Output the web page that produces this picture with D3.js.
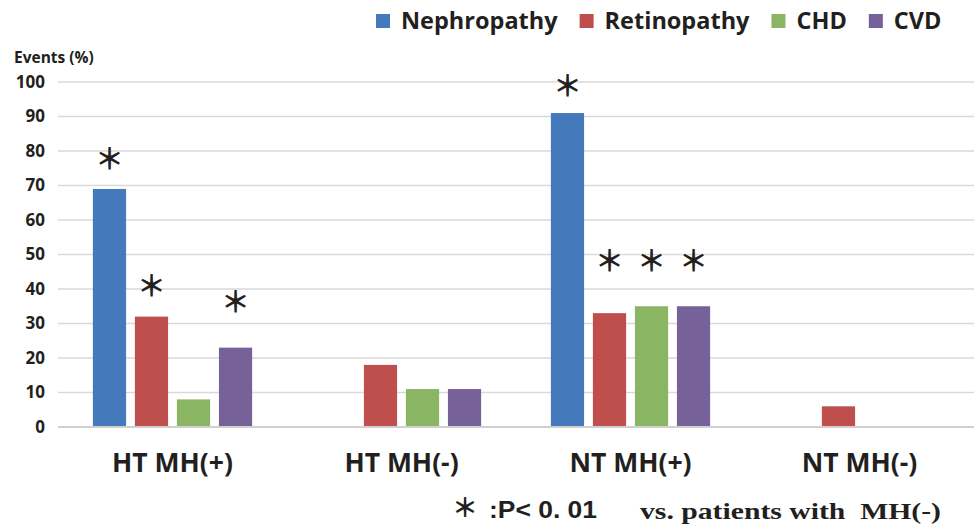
<!DOCTYPE html>
<html>
<head>
<meta charset="utf-8">
<script src="https://cdn.jsdelivr.net/npm/d3@7"></script>
<style>
  body { margin: 0; background: #fff; }
  svg { display: block; }
</style>
</head>
<body>
<div id="chart"></div>
<script>
// data
var groups = ["HT MH(+)", "HT MH(-)", "NT MH(+)", "NT MH(-)"];
var series = ["Nephropathy", "Retinopathy", "CHD", "CVD"];
var colors = ["#4479bb", "#be4f4d", "#8ab563", "#766298"];
var nephropathy = [69, 0, 91, 0];
var retinopathy = [32, 18, 33, 6];
var chd = [8, 11, 35, 0];
var cvd = [23, 11, 35, 0];
var yTicks = [0, 10, 20, 30, 40, 50, 60, 70, 80, 90, 100];
// asterisk levels (in % units), null = no mark
var starNeph = [77.5, null, 98.5, null];
var starRetin = [40.5, null, 48, null];
var starChd = [null, null, 48, null];
var starCvd = [36, null, 48, null];

var width = 974, height = 525;
var margin = {top: 82, left: 58, right: 0, bottom: 98};

var svg = d3.select("#chart").append("svg")
    .attr("width", width)
    .attr("height", height);

var values = [nephropathy, retinopathy, chd, cvd];
var stars = [starNeph, starRetin, starChd, starCvd];

var x0 = d3.scaleBand().domain(groups).range([margin.left, width - margin.right]);
var x1 = d3.scaleBand().domain(series).range([0, x0.bandwidth()])
    .paddingInner(0.21).paddingOuter(0.83);
var y = d3.scaleLinear().domain([0, 100]).range([height - margin.bottom, margin.top]);

// gridlines
svg.append("g").selectAll("line")
    .data(yTicks.filter(function(d){ return d > 0; }))
    .enter().append("line")
    .attr("x1", margin.left).attr("x2", width - margin.right)
    .attr("y1", function(d){ return y(d); }).attr("y2", function(d){ return y(d); })
    .attr("stroke", "#d9d9d9").attr("stroke-width", 1.3);

// y axis labels
var yAxis = d3.axisLeft(y).tickValues(yTicks).tickSize(0).tickPadding(13);
var yg = svg.append("g").attr("transform", "translate(" + margin.left + ",0)").call(yAxis);
yg.select(".domain").remove();
yg.selectAll("text")
    .attr("font-family", "'Open Sans', sans-serif")
    .attr("font-weight", "bold")
    .attr("font-size", 17)
    .attr("fill", "#231f20");

svg.append("text")
    .attr("x", 14).attr("y", 63)
    .attr("font-family", "'Open Sans', sans-serif")
    .attr("font-weight", "bold").attr("font-size", 15.5)
    .attr("fill", "#231f20")
    .text("Events (%)");

// bars
for (var s = 0; s < series.length; s++) {
  svg.append("g").selectAll("rect")
    .data(values[s])
    .enter().append("rect")
    .attr("x", function(d, i){ return x0(groups[i]) + x1(series[s]); })
    .attr("y", function(d){ return y(d); })
    .attr("width", x1.bandwidth())
    .attr("height", function(d){ return y(0) - y(d); })
    .attr("fill", colors[s]);

  svg.append("g").selectAll("text")
    .data(stars[s].map(function(v, i){ return {v: v, g: groups[i]}; }).filter(function(d){ return d.v !== null; }))
    .enter().append("text")
    .attr("x", function(d){ return x0(d.g) + x1(series[s]) + x1.bandwidth() / 2; })
    .attr("y", function(d){ return y(d.v); })
    .attr("dy", "0.35em")
    .attr("text-anchor", "middle")
    .attr("font-family", "'Noto Sans CJK JP', sans-serif")
    .attr("font-weight", "bold")
    .attr("font-size", 29)
    .attr("fill", "#231f20")
    .text("\uFF0A");
}

// baseline
svg.append("line")
    .attr("x1", margin.left).attr("x2", width - margin.right)
    .attr("y1", y(0)).attr("y2", y(0))
    .attr("stroke", "#d0d0d0").attr("stroke-width", 2);

// category labels
var xAxis = d3.axisBottom(x0).tickSize(0).tickPadding(26);
var xg = svg.append("g").attr("transform", "translate(0," + y(0) + ")").call(xAxis);
xg.select(".domain").remove();
xg.selectAll("text")
    .attr("font-family", "'Open Sans', sans-serif")
    .attr("font-weight", "bold")
    .attr("font-size", 26.5)
    .attr("fill", "#231f20");

// legend
var legend = svg.append("g").attr("transform", "translate(376,21)");
var lx = 0;
series.forEach(function(name, i){
  var item = legend.append("g").attr("transform", "translate(" + lx + ",0)");
  item.append("rect").attr("x", 0).attr("y", -7).attr("width", 14).attr("height", 14).attr("fill", colors[i]);
  var t = item.append("text")
      .attr("x", 25).attr("y", 0).attr("dy", "0.36em")
      .attr("font-family", "'Open Sans', sans-serif")
      .attr("font-weight", "bold").attr("font-size", 23.5)
      .attr("fill", "#231f20")
      .text(name);
  lx += 25 + t.node().getComputedTextLength() + 22;
});

// footnote
svg.append("text")
    .attr("x", 465).attr("y", 508)
    .attr("dy", "0.35em")
    .attr("text-anchor", "middle")
    .attr("font-family", "'Noto Sans CJK JP', sans-serif")
    .attr("font-weight", "bold")
    .attr("font-size", 26).attr("fill", "#231f20")
    .text("\uFF0A");
svg.append("text")
    .attr("x", 489).attr("y", 518)
    .attr("font-family", "'Liberation Sans', Arial, sans-serif")
    .attr("font-weight", "bold").attr("font-size", 24).attr("fill", "#231f20")
    .attr("textLength", 108).attr("lengthAdjust", "spacingAndGlyphs")
    .text(":P< 0. 01");
svg.append("text")
    .attr("x", 640).attr("y", 519)
    .attr("font-family", "'Liberation Serif', 'Times New Roman', serif")
    .attr("font-weight", "bold").attr("font-size", 24).attr("fill", "#231f20")
    .style("white-space", "pre")
    .attr("textLength", 301).attr("lengthAdjust", "spacingAndGlyphs")
    .text("vs. patients with  MH(-)");
</script>
</body>
</html>
